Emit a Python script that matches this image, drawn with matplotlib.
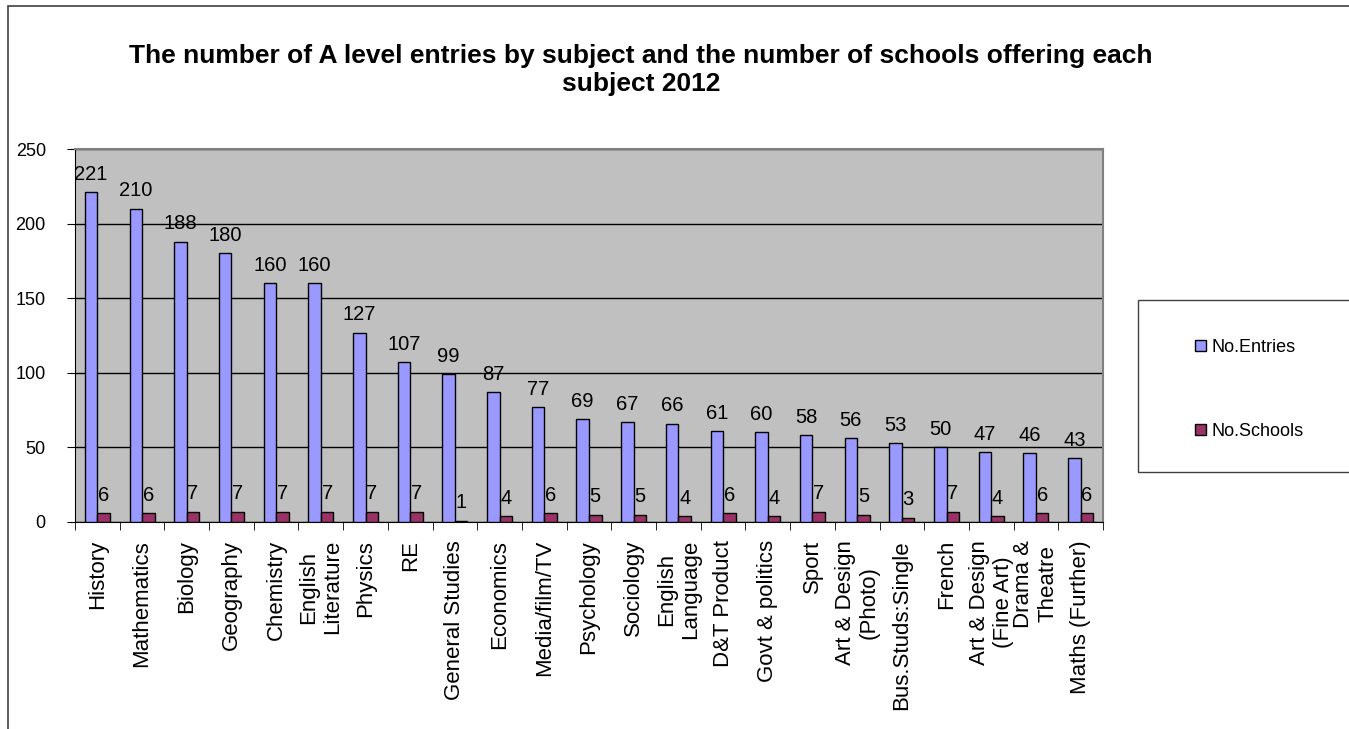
import numpy as np
import matplotlib
matplotlib.use("Agg")
import matplotlib.pyplot as plt
from matplotlib.patches import Rectangle

plt.rcParams['font.family'] = ['Liberation Sans', 'DejaVu Sans']

# data
subjects = ['History', 'Mathematics', 'Biology', 'Geography', 'Chemistry',
            'English\nLiterature', 'Physics', 'RE', 'General Studies',
            'Economics', 'Media/film/TV', 'Psychology', 'Sociology',
            'English\nLanguage', 'D&T Product', 'Govt & politics', 'Sport',
            'Art & Design\n(Photo)', 'Bus.Studs:Single', 'French',
            'Art & Design\n(Fine Art)', 'Drama &\nTheatre', 'Maths (Further)']
entries = [221, 210, 188, 180, 160, 160, 127, 107, 99, 87, 77, 69, 67, 66,
           61, 60, 58, 56, 53, 50, 47, 46, 43]
schools = [6, 6, 7, 7, 7, 7, 7, 7, 1, 4, 6, 5, 5, 4, 6, 4, 7, 5, 3, 7, 4, 6, 6]

W, H = 1349, 729
fig = plt.figure(figsize=(W / 100, H / 100), dpi=100)

# outer chart border
fig.patches.append(Rectangle((8 / W, 0 - 0.01), 1.1, (H - 6) / H + 0.01,
                             transform=fig.transFigure, fill=False,
                             edgecolor='#404040', linewidth=1.2))

ax = fig.add_axes([75 / W, (H - 522) / H, (1103 - 75) / W, (522 - 149) / H])
ax.set_facecolor('#C0C0C0')

x = np.arange(len(subjects))
w = 0.28
b1 = ax.bar(x - w / 2, entries, w, color='#9999FF', edgecolor='black',
            linewidth=1, label='No.Entries', zorder=3)
b2 = ax.bar(x + w / 2, schools, w, color='#993366', edgecolor='black',
            linewidth=1, label='No.Schools', zorder=3)
ax.bar_label(b1, padding=6, fontsize=14.5)
ax.bar_label(b2, padding=6, fontsize=14.5)

ax.set_ylim(0, 250)
ax.set_xlim(-0.5, len(subjects) - 0.5)
ax.set_yticks(np.arange(0, 251, 50))
ax.tick_params(axis='y', labelsize=13, length=6, pad=15)
ax.yaxis.grid(True, color='black', linewidth=1)
ax.set_axisbelow(True)

ax.set_xticks(x)
ax.set_xticklabels(subjects, rotation=90, fontsize=16, va='top', ha='center')
ax.tick_params(axis='x', length=0, pad=13)
ax.set_xticks(np.arange(-0.5, len(subjects)), minor=True)
ax.tick_params(axis='x', which='minor', length=6)

for s in ['top', 'right']:
    ax.spines[s].set_color('#808080')
    ax.spines[s].set_linewidth(1.5)
for s in ['left', 'bottom']:
    ax.spines[s].set_color('black')

fig.text(641 / W, 1 - 70 / H,
         'The number of A level entries by subject and the number of schools offering each\nsubject 2012',
         ha='center', va='center', fontsize=19, fontweight='bold',
         linespacing=1.25)

# legend box
fig.patches.append(Rectangle((1138 / W, 1 - 472 / H), 0.3, 172 / H,
                             transform=fig.transFigure, fill=False,
                             edgecolor='#404040', linewidth=1))
fig.legend(handles=[b1, b2], loc='upper left',
           bbox_to_anchor=(1186 / W, 1 - 330 / H), frameon=False,
           fontsize=13, handlelength=0.6, handleheight=0.6,
           handletextpad=0.3, labelspacing=3.7, borderpad=0)

fig.savefig('out.png', dpi=100)
